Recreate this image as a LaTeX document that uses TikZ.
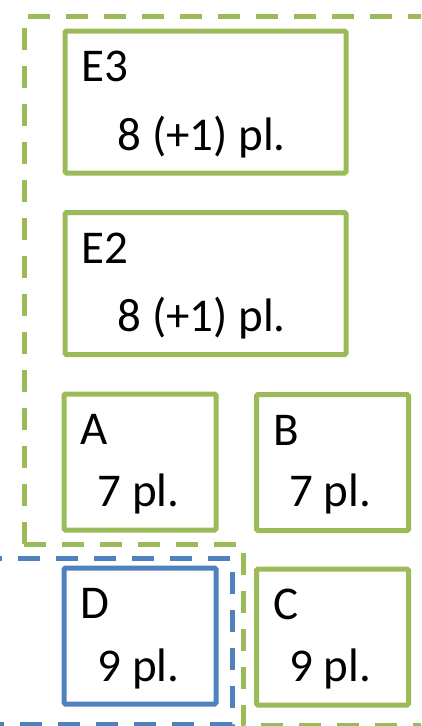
\documentclass[tikz,border=0pt]{standalone}
\usepackage{fontspec}
\setmainfont{Carlito}
\usetikzlibrary{calc}

\definecolor{zoneGreen}{RGB}{155,187,89}
\definecolor{zoneBlue}{RGB}{79,129,189}

\tikzset{
    salle/.style={draw=zoneGreen, line width=5pt, rounded corners=1.5pt,
        inner sep=0pt, minimum width=152pt, minimum height=136pt},
    grande/.style={salle, minimum width=281pt, minimum height=142pt},
    zone/.style={line width=5pt, dash pattern=on 22pt off 16pt},
    txt/.style={anchor=base west, inner sep=0pt,
        font=\fontsize{47}{54}\selectfont}
}

\begin{document}
\begin{tikzpicture}[x=1pt,y=-1pt]

    \useasboundingbox (0,0) rectangle (421,726);
    \clip (0,0) rectangle (421,726);

    % zones
    \draw[zone, draw=zoneGreen]
                (24,544)coordinate (G3)
            --(24,16)coordinate (G2)
            --(440,16)coordinate (G1);
    \draw[zone, draw=zoneGreen]
                (24,544)
            --(243,544)coordinate (G4)
            --(243,725)coordinate (G5)
            --(440,725)coordinate (G6);
    \draw[zone, draw=zoneBlue]
                (-20,558)coordinate (B1)
            --(232,558)coordinate (B2)
            --(232,724)coordinate (B3)
            --(-20,724)coordinate (B4);

    % salles
    \node[grande] (e3) at (205.5,102) {};
    \node[grande] (e2) at (205.5,283.5) {};
    \node[salle] (a) at (140,462) {};
    \node[salle] (b) at (332.5,462.5) {};
    \node[salle, draw=zoneBlue] (d) at (140,636) {};
    \node[salle] (c) at (332.5,637) {};

    \foreach \s/\n/\p/\dx/\dy in {e3/E3/8 (+1) pl./55/122,e2/E2/8 (+1) pl./55/121,
                                  a/A/7 pl./36/115,b/B/7 pl./35/114,
                                  d/D/9 pl./36/116,c/C/9 pl./35/115} {
    \node[txt] (\s-nom) at ($(\s.north west)+(19,53)$) {\n};
    \node[txt] (\s-pl) at ($(\s.north west)+(\dx,\dy)$) {\p};}

    \end{tikzpicture}
\end{document}
